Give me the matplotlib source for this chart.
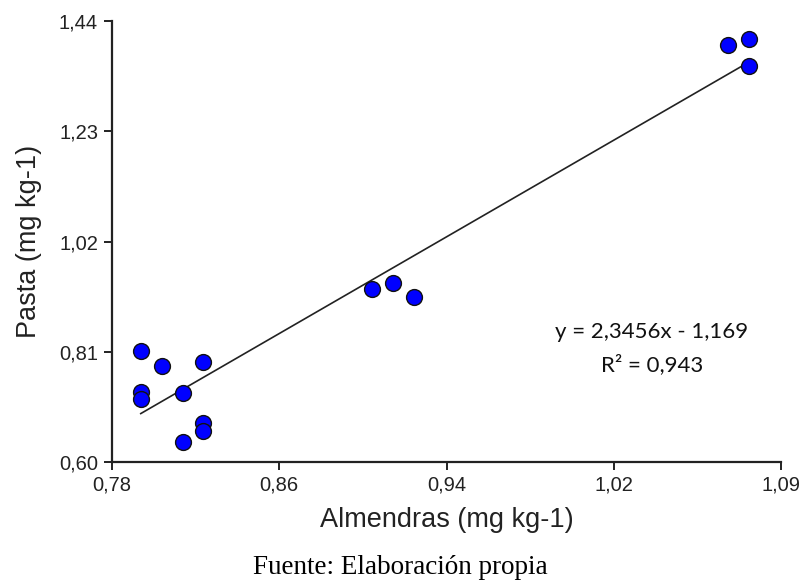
import numpy as np
import matplotlib
matplotlib.use("Agg")
import matplotlib.pyplot as plt

# datos
almendras = [0.7935, 0.8037, 0.8225, 0.7935, 0.7935, 0.8132, 0.8225, 0.8225, 0.8132,
             0.9018, 0.9118, 0.9217, 1.0690, 1.0789, 1.0789]
pasta = [0.812, 0.783, 0.790, 0.733, 0.720, 0.731, 0.674, 0.660, 0.639,
         0.930, 0.941, 0.915, 1.395, 1.406, 1.354]

pendiente = 2.3456
intercepto = -1.169
r2 = 0.943

x_ticks_labels = ["0,78", "0,86", "0,94", "1,02", "1,09"]
y_ticks_labels = ["0,60", "0,81", "1,02", "1,23", "1,44"]

x_min, x_max = 0.78, 1.094
y_min, y_max = 0.60, 1.44

fig = plt.figure(figsize=(8.03, 5.82), dpi=100)
ax = fig.add_axes([112 / 803, 1 - 462 / 582, (781 - 112) / 803, (462 - 21) / 582])

# recta de regresion
xr = np.array([min(almendras), max(almendras)])
ax.plot(xr, pendiente * xr + intercepto, color="#222222", lw=1.2, zorder=2)

ax.scatter(almendras, pasta, s=130, c="#0000ff", edgecolors="#111111", linewidths=1.0, zorder=3)

ax.set_xlim(x_min, x_max)
ax.set_ylim(y_min, y_max)
ax.set_xticks(np.linspace(x_min, x_max, 5))
ax.set_xticklabels(x_ticks_labels)
ax.set_yticks(np.linspace(y_min, y_max, 5))
ax.set_yticklabels(y_ticks_labels)

for s in ["top", "right"]:
    ax.spines[s].set_visible(False)
for s in ["left", "bottom"]:
    ax.spines[s].set_linewidth(1.6)
    ax.spines[s].set_color("#222222")

ax.tick_params(direction="out", length=6, width=1.4, color="#222222",
               labelsize=14.5, labelcolor="#222222", pad=4)
for lbl in ax.get_xticklabels() + ax.get_yticklabels():
    lbl.set_family("Liberation Sans")

ax.set_xlabel("Almendras (mg kg-1)", fontsize=19.5, family="Liberation Sans", color="#222222", labelpad=9)
ax.set_ylabel("Pasta (mg kg-1)", fontsize=19.5, family="Liberation Sans", color="#222222", labelpad=12)

fig.text(652 / 803, 1 - 332 / 582, "y = 2,3456x - 1,169", ha="center", va="center",
         fontsize=16, family="Lato", color="#111111")
fig.text(652 / 803, 1 - 365 / 582, "R² = 0,943", ha="center", va="center",
         fontsize=16, family="Lato", color="#111111")

fig.text(400 / 803, 1 - 568 / 582, "Fuente: Elaboración propia", ha="center", va="center",
         fontsize=19.5, family="Liberation Serif", color="#000000")

fig.savefig("out.png", dpi=100)
